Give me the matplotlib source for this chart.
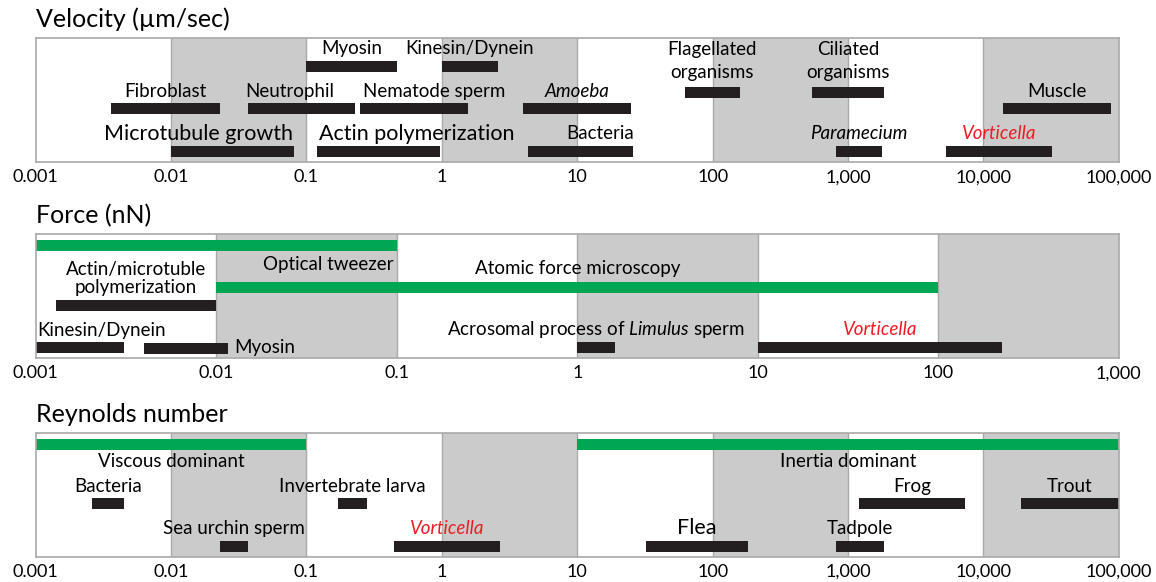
import numpy as np
import matplotlib
matplotlib.use("Agg")
import matplotlib.pyplot as plt
from matplotlib.ticker import NullLocator

plt.rcParams['font.family'] = ['Lato', 'DejaVu Sans']
plt.rcParams['mathtext.fontset'] = 'custom'
plt.rcParams['mathtext.rm'] = 'Lato'
plt.rcParams['mathtext.it'] = 'Lato:italic'

# ---- data: ranges ----
vel_names = ["Myosin", "Kinesin/Dynein", "Fibroblast", "Neutrophil", "Nematode sperm",
             "Amoeba", "Flagellated\norganisms", "Ciliated\norganisms", "Muscle",
             "Microtubule growth", "Actin polymerization", "Bacteria", "Paramecium",
             "Vorticella"]
vel_low = [0.1, 1.0, 0.0036, 0.037, 0.25, 4.0, 62, 540, 14000, 0.01, 0.12, 4.3, 810, 5300]
vel_high = [0.47, 2.6, 0.023, 0.23, 1.55, 25, 160, 1850, 87000, 0.081, 0.97, 26, 1780, 32000]
vel_ticks = ["0.001", "0.01", "0.1", "1", "10", "100", "1,000", "10,000", "100,000"]

force_names = ["Optical tweezer", "Atomic force microscopy", "Actin/microtuble\npolymerization",
               "Kinesin/Dynein", "Myosin", "Acrosomal process of $\\mathit{Limulus}$ sperm",
               "Vorticella"]
force_low = [0.001, 0.01, 0.0013, 0.001, 0.004, 1.0, 10]
force_high = [0.1, 100, 0.01, 0.0031, 0.0116, 1.62, 225]
force_ticks = ["0.001", "0.01", "0.1", "1", "10", "100", "1,000"]

re_names = ["Viscous dominant", "Inertia dominant", "Bacteria", "Invertebrate larva", "Frog",
            "Trout", "Sea urchin sperm", "Vorticella", "Flea", "Tadpole"]
re_low = [0.001, 10, 0.0026, 0.17, 1200, 19000, 0.023, 0.44, 32, 820]
re_high = [0.1, 100000, 0.0045, 0.28, 7300, 100000, 0.037, 2.7, 182, 1850]
re_ticks = vel_ticks

# ---- layout: (bar row px from top, bar colour, anchor, dx px, label baseline px, size, style, text colour)
BLK = '#231f20'
GRN = '#00a651'
RED = '#ed1c24'
S = 13.5
B = 15.5

vel_layout = [
    (28.3, BLK, 'c', 0, 16.6, S, 'normal', 'k'),
    (28.3, BLK, 'c', 0, 16.6, S, 'normal', 'k'),
    (70.8, BLK, 'c', 0, 59.5, S, 'normal', 'k'),
    (70.8, BLK, 'c', -12, 59.5, S, 'normal', 'k'),
    (70.8, BLK, 'c', 20, 59.5, S, 'normal', 'k'),
    (70.8, BLK, 'c', 0, 59.5, S, 'italic', 'k'),
    (54.3, BLK, 'c', 0, 40.6, S, 'normal', 'k'),
    (54.3, BLK, 'c', 0, 40.6, S, 'normal', 'k'),
    (70.8, BLK, 'c', 0, 59.5, S, 'normal', 'k'),
    (113.5, BLK, 'c', -34, 102.0, B, 'normal', 'k'),
    (113.5, BLK, 'c', 38, 102.0, B, 'normal', 'k'),
    (113.5, BLK, 'c', 20, 101.6, S, 'normal', 'k'),
    (113.5, BLK, 'c', 0, 101.6, S, 'italic', 'k'),
    (113.5, BLK, 'c', 0, 101.6, S, 'italic', RED),
]
force_layout = [
    (11.2, GRN, 'r', -3, 35.7, S, 'normal', 'k'),
    (53.5, GRN, 'c', 0, 39.7, S, 'normal', 'k'),
    (70.7, BLK, 'c', 0, 58.4, S, 'normal', 'k'),
    (113.2, BLK, 'c', 22, 101.7, S, 'normal', 'k'),
    (113.7, BLK, 'l', 6, 119.0, S, 'normal', 'k'),
    (112.9, BLK, 'c', 0, 100.7, S, 'normal', 'k'),
    (112.9, BLK, 'c', 0, 100.7, S, 'italic', RED),
]
re_layout = [
    (11.2, GRN, 'c', 0, 34.0, S, 'normal', 'k'),
    (11.2, GRN, 'c', 0, 34.0, S, 'normal', 'k'),
    (70.5, BLK, 'c', 0, 58.4, S, 'normal', 'k'),
    (70.5, BLK, 'c', 0, 58.4, S, 'normal', 'k'),
    (70.5, BLK, 'c', 0, 58.4, S, 'normal', 'k'),
    (70.5, BLK, 'c', 0, 58.4, S, 'normal', 'k'),
    (112.9, BLK, 'c', 0, 100.7, S, 'normal', 'k'),
    (112.9, BLK, 'c', 0, 100.7, S, 'italic', RED),
    (112.9, BLK, 'c', 0, 100.7, B, 'normal', 'k'),
    (112.9, BLK, 'c', 0, 100.7, S, 'normal', 'k'),
]
line_gap = {"Flagellated\norganisms": 23.3, "Ciliated\norganisms": 23.3,
            "Actin/microtuble\npolymerization": 17.7}

W, H = 1156, 582
fig = plt.figure(figsize=(W / 100, H / 100), dpi=100)


def draw_panel(top, bottom, title, names, lows, highs, ticks, layout):
    left, right = 35.7, 1118.8
    ax = fig.add_axes([left / W, 1 - bottom / H, (right - left) / W, (bottom - top) / H])
    h_px = bottom - top
    lo_exp = -3
    hi_exp = lo_exp + len(ticks) - 1
    ax.set_xscale('log')
    ax.set_xlim(10.0 ** lo_exp, 10.0 ** hi_exp)
    ax.set_ylim(h_px, 0)
    ax.set_yticks([])

    # alternating grey decades
    for k in range(lo_exp + 1, hi_exp, 2):
        ax.axvspan(10.0 ** k, 10.0 ** (k + 1), facecolor='#cbcbcb', edgecolor='none', zorder=0)
        for e in (k, k + 1):
            if lo_exp < e < hi_exp:
                ax.axvline(10.0 ** e, color='#a9a9a9', lw=1.0, zorder=0.5)

    for name, lo, hi, lay in zip(names, lows, highs, layout):
        row, col, anchor, dx, base, size, style, tcol = lay
        ax.barh(row, hi - lo, left=lo, height=11, color=col, zorder=2)
        if anchor == 'c':
            xa, ha = np.sqrt(lo * hi), 'center'
        elif anchor == 'r':
            xa, ha = hi, 'right'
        else:
            xa, ha = hi, 'left'
        lines = name.split('\n')
        gap = line_gap.get(name, 0)
        for i, ln in enumerate(lines):
            y = base - (len(lines) - 1 - i) * gap
            ax.annotate(ln, xy=(xa, y), xytext=(dx, 0), textcoords='offset pixels',
                        ha=ha, va='baseline', fontsize=size, fontstyle=style,
                        color=tcol, zorder=3, annotation_clip=False)

    ax.set_xticks([10.0 ** e for e in range(lo_exp, hi_exp + 1)])
    ax.set_xticklabels(ticks)
    ax.xaxis.set_minor_locator(NullLocator())
    ax.tick_params(axis='x', length=0, pad=5, labelsize=13)
    for sp in ax.spines.values():
        sp.set_color('#a9a9a9')
        sp.set_linewidth(1.2)
        sp.set_zorder(4)
    ax.set_title(title, loc='left', pad=8, fontsize=18)
    return ax


draw_panel(37.7, 162.3, "Velocity (\u00b5m/sec)", vel_names, vel_low, vel_high, vel_ticks, vel_layout)
draw_panel(234.3, 358.3, "Force (nN)", force_names, force_low, force_high, force_ticks, force_layout)
draw_panel(433.3, 556.7, "Reynolds number", re_names, re_low, re_high, re_ticks, re_layout)

fig.savefig("out.png", dpi=100)
